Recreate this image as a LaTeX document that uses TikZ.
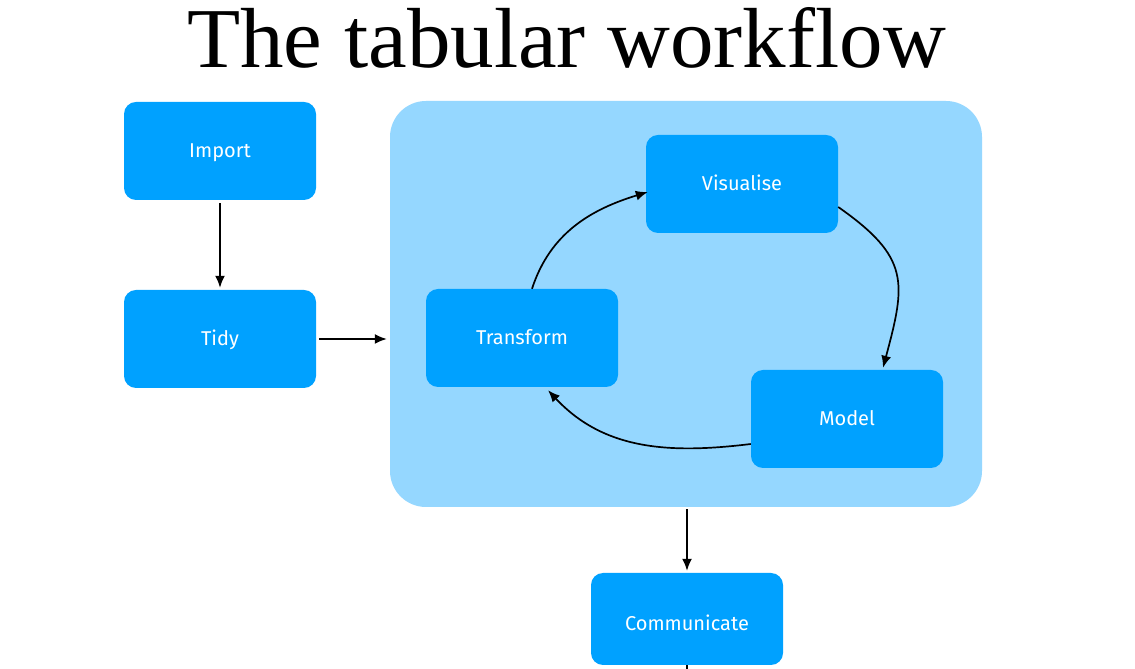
\documentclass[tikz,border=0pt]{standalone}
\usepackage{fontspec}
\setmainfont{Fira Sans}
\newfontfamily\titlefont{Liberation Serif}
\usetikzlibrary{arrows.meta}
\definecolor{boxblue}{RGB}{0,161,255}
\definecolor{lightblue}{RGB}{149,215,255}
\tikzset{
  stepbox/.style={fill=boxblue, draw=none, rounded corners=12pt, minimum width=192pt, minimum height=98pt, text=white, font=\fontsize{20}{22}\selectfont, inner sep=0pt, text height=13.8pt, text depth=0pt},
  conn/.style={line width=1.7pt, -{Latex[length=12pt,width=10pt]}}
}
\begin{document}
\begin{tikzpicture}[x=1pt,y=1pt]
\useasboundingbox (0,0) rectangle (1135,669);
\fill[white] (0,0) rectangle (1135,669);
\node[anchor=base, font=\titlefont\fontsize{87}{90}\selectfont, inner sep=0pt, yscale=0.98] (title) at (566.5,601) {The tabular workflow};
\node[fill=lightblue, rounded corners=36pt, minimum width=592pt, minimum height=406pt, inner sep=0pt] (cont) at (686,365) {};
\node[stepbox] (import) at (220,518) {Import};
\node[stepbox] (tidy) at (220,330) {Tidy};
\node[stepbox] (vis) at (742,485) {Visualise};
\node[stepbox] (trans) at (522,331) {Transform};
\node[stepbox] (model) at (847,250) {Model};
\node[stepbox, minimum height=92pt, text height=23.8pt] (comm) at (687,50) {Communicate};
\coordinate (below) at (687,-5);
\draw[conn, shorten <=3pt, shorten >=2pt] (import) -- (tidy);
\draw[conn, shorten <=3pt, shorten >=3pt] (tidy.east) -- (cont.west |- tidy.east);
\draw[conn, shorten <=2pt, shorten >=2pt] (cont.south -| comm.north) -- (comm.north);
\draw[line width=1.7pt] (comm.south) -- (below);
\draw[conn] (trans.north -| 532,0) to[out=72, in=197] ([xshift=2pt,yshift=-8pt]vis.west);
\draw[conn] ([yshift=-23pt]vis.east) to[out=-35, in=75, looseness=1.35] ([xshift=36pt,yshift=2pt]model.north);
\draw[conn] ([yshift=-25pt]model.west) to[out=187, in=-47] ([xshift=26pt,yshift=-3pt]trans.south);
\end{tikzpicture}
\end{document}
